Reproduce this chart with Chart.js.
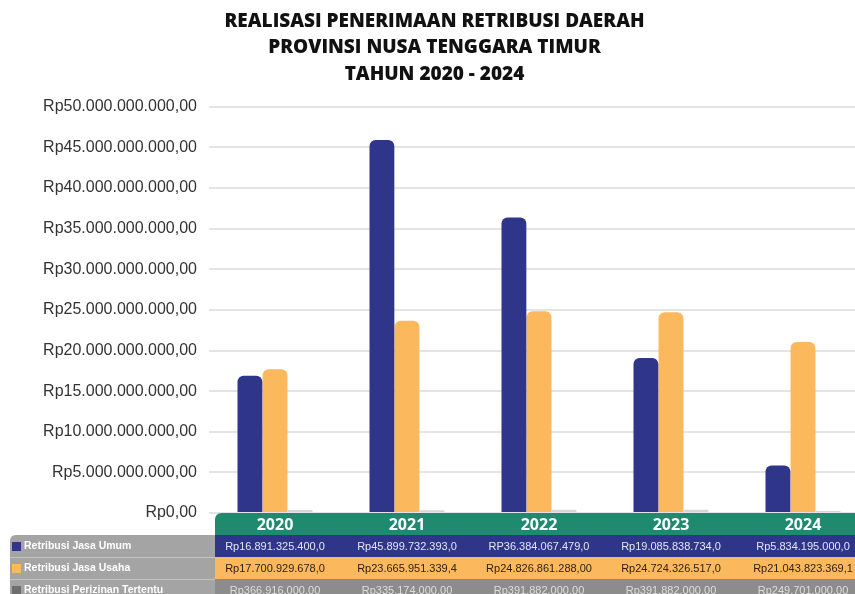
<!DOCTYPE html>
<html>
<head>
<meta charset="utf-8">
<script src="https://cdn.jsdelivr.net/npm/chart.js@4"></script>
<style>
  html, body { margin: 0; padding: 0; background: #fff; overflow: hidden; }
  #wrap { width: 880px; height: 594px; }
</style>
</head>
<body>
<div id="wrap"><canvas id="retribusiChart" width="880" height="594"></canvas></div>
<script>
// Data realisasi retribusi daerah NTT 2020 - 2024
const years = ['2020', '2021', '2022', '2023', '2024'];
const jasaUmum = [16891325400, 45899732393, 36384067479, 19085838734, 5834195000];
const jasaUsaha = [17700929678, 23665951339.4, 24826861288, 24724326517, 21043823369.1];
const perizinan = [366916000, 335174000, 391882000, 391882000, 249701000];

// teks tabel seperti tertulis di gambar
const umumLabels = ['Rp16.891.325.400,0', 'Rp45.899.732.393,0', 'RP36.384.067.479,0', 'Rp19.085.838.734,0', 'Rp5.834.195.000,0'];
const usahaLabels = ['Rp17.700.929.678,0', 'Rp23.665.951.339,4', 'Rp24.826.861.288,00', 'Rp24.724.326.517,0', 'Rp21.043.823.369,1'];
const izinLabels = ['Rp366.916.000,00', 'Rp335.174.000,00', 'Rp391.882.000,00', 'Rp391.882.000,00', 'Rp249.701.000,00'];
const seriesNames = ['Retribusi Jasa Umum', 'Retribusi Jasa Usaha', 'Retribusi Perizinan Tertentu'];
const yTicks = [0, 5e9, 10e9, 15e9, 20e9, 25e9, 30e9, 35e9, 40e9, 45e9, 50e9];

const BLUE = '#2f3588';
const ORANGE = '#fbb85c';
const GREY = '#d6d6d6';

function rupiah(v) {
    return 'Rp' + Math.round(v).toString().replace(/\B(?=(\d{3})+(?!\d))/g, '.') + ',00';
}

function roundTopLeft(ctx, x, y, w, h, r) {
    ctx.beginPath();
    ctx.moveTo(x, y + h);
    ctx.lineTo(x, y + r);
    ctx.quadraticCurveTo(x, y, x + r, y);
    ctx.lineTo(x + w, y);
    ctx.lineTo(x + w, y + h);
    ctx.closePath();
    ctx.fill();
}

// tabel data di bawah grafik
const tablePlugin = {
    id: 'dataTable',
    afterDraw(chart) {
        const ctx = chart.ctx;
        const x = chart.scales.x;
        const area = chart.chartArea;
        const W = chart.width;
        const top = area.bottom;
        const rowH = 22;
        const colLeft = area.left + 6;

        ctx.save();
        // header tahun
        ctx.fillStyle = '#1f8a6d';
        roundTopLeft(ctx, colLeft, top, W - colLeft, rowH, 7);

        const rows = [
            { bg: BLUE, fg: '#e4e6f5', box: BLUE, texts: umumLabels },
            { bg: ORANGE, fg: '#2d2312', box: ORANGE, texts: usahaLabels },
            { bg: '#8c8c8c', fg: '#dedede', box: '#6e6e6e', texts: izinLabels }
        ];

        // kolom kiri
        ctx.fillStyle = '#a4a4a4';
        roundTopLeft(ctx, 10, top + rowH, colLeft - 10, rowH * 3, 6);

        rows.forEach((row, i) => {
            const y0 = top + rowH * (i + 1);
            ctx.fillStyle = row.bg;
            ctx.fillRect(colLeft, y0, W - colLeft, rowH);
            if (i > 0) {
                ctx.fillStyle = 'rgba(255,255,255,0.35)';
                ctx.fillRect(10, y0, colLeft - 10, 1);
            }
            ctx.fillStyle = row.box;
            ctx.fillRect(12, y0 + 7, 9, 9);
            ctx.fillStyle = '#ffffff';
            ctx.font = 'bold 10.5px "Liberation Sans", Arial, sans-serif';
            ctx.textAlign = 'left';
            ctx.textBaseline = 'middle';
            ctx.fillText(seriesNames[i], 24, y0 + rowH / 2 + 0.5);

            ctx.fillStyle = row.fg;
            ctx.font = '11px "Liberation Sans", Arial, sans-serif';
            ctx.textAlign = 'center';
            row.texts.forEach((t, j) => {
                ctx.fillText(t, x.getPixelForValue(j), y0 + rowH / 2 + 0.5);
            });
        });

        ctx.fillStyle = '#ffffff';
        ctx.font = 'bold 16px "Open Sans", sans-serif';
        ctx.textAlign = 'center';
        ctx.textBaseline = 'middle';
        years.forEach((yr, j) => {
            ctx.fillText(yr, x.getPixelForValue(j), top + rowH / 2 + 1);
        });
        ctx.restore();
    }
};

document.addEventListener('DOMContentLoaded', function() {
    const ctx = document.getElementById('retribusiChart').getContext('2d');
    new Chart(ctx, {
        type: 'bar',
        data: {
            labels: years,
            datasets: [
                { label: seriesNames[0], data: jasaUmum, backgroundColor: BLUE },
                { label: seriesNames[1], data: jasaUsaha, backgroundColor: ORANGE },
                { label: seriesNames[2], data: perizinan, backgroundColor: GREY }
            ]
        },
        options: {
            responsive: false,
            animation: false,
            layout: { padding: { left: 0, right: 11, top: 0, bottom: 81 } },
            datasets: {
                bar: {
                    categoryPercentage: 0.57,
                    barPercentage: 0.99,
                    borderRadius: 6,
                    borderSkipped: 'start'
                }
            },
            plugins: {
                legend: { display: false },
                tooltip: { enabled: false },
                title: {
                    display: true,
                    text: ['REALISASI PENERIMAAN RETRIBUSI DAERAH', 'PROVINSI NUSA TENGGARA TIMUR', 'TAHUN 2020 - 2024'],
                    color: '#111111',
                    font: { family: '"Open Sans", sans-serif', size: 19, weight: 800, lineHeight: 1.4 },
                    padding: { top: 8, bottom: 19 }
                }
            },
            scales: {
                x: {
                    display: false
                },
                y: {
                    min: 0,
                    max: 50e9,
                    afterBuildTicks(scale) {
                        scale.ticks = yTicks.map(v => ({ value: v }));
                    },
                    afterFit(scale) {
                        scale.width = 209;
                    },
                    border: { display: false },
                    grid: {
                        color: '#e4e4e4',
                        lineWidth: 2,
                        drawTicks: false
                    },
                    ticks: {
                        padding: 12,
                        color: '#333333',
                        font: { family: '"Liberation Sans", Arial, sans-serif', size: 16 },
                        callback: v => rupiah(v)
                    }
                }
            }
        },
        plugins: [tablePlugin]
    });
});
</script>
</body>
</html>
